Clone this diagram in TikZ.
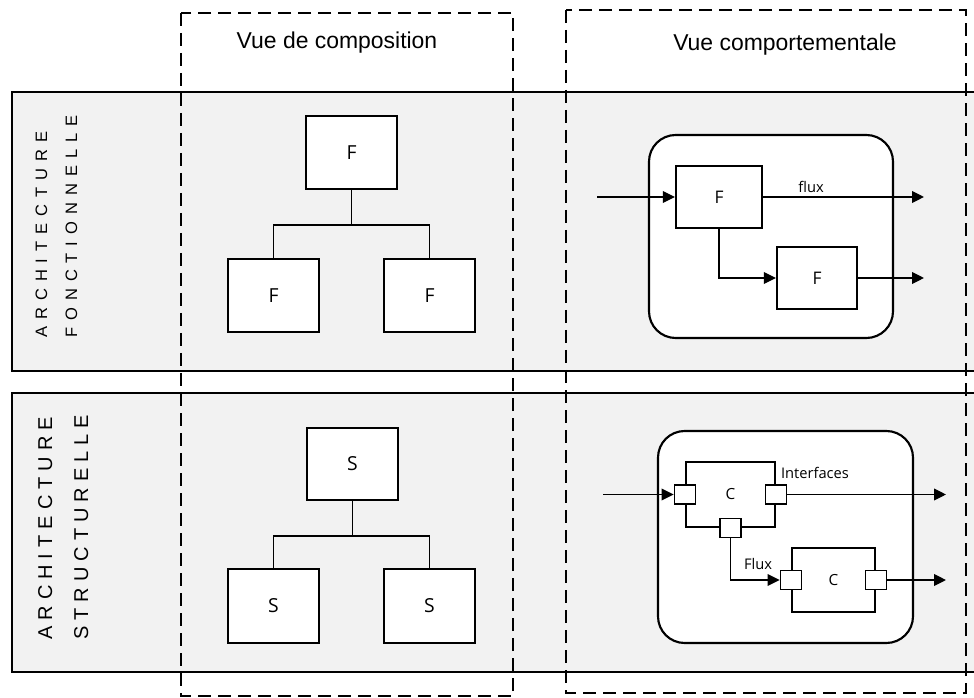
\documentclass[tikz,border=0pt]{standalone}
\usepackage{fontspec}
\setmainfont{Liberation Sans}
\newfontfamily\lblfont{Open Sans}
\usetikzlibrary{arrows.meta}
\definecolor{bandgray}{HTML}{F2F2F2}
\begin{document}
\begin{tikzpicture}[x=0.75pt,y=-0.75pt,
  band/.style={draw=black, line width=1.5pt, fill=bandgray},
  column/.style={draw=black, line width=1.5pt, dash pattern=on 10pt off 5pt},
  sz/.style 2 args={minimum width=#1*0.75pt, minimum height=#2*0.75pt},
  header/.style={inner sep=0pt, font=\fontsize{17.2}{20}\selectfont},
  lblA/.style={inner sep=0pt, rotate=90, anchor=base west, font=\fontsize{12.4}{14}\selectfont\addfontfeature{LetterSpace=42}},
  lblB/.style={inner sep=0pt, rotate=90, anchor=base west, font=\fontsize{15}{17}\selectfont\addfontfeature{LetterSpace=30}},
  box/.style={draw=black, line width=1.6pt, fill=white, inner sep=0pt, font=\lblfont\fontsize{14.5}{16}\selectfont},
  boxF/.style={box, font=\lblfont\fontsize{13}{15}\selectfont},
  boxC/.style={box, font=\lblfont\fontsize{11.5}{13}\selectfont},
  port/.style={draw=black, line width=1.3pt, fill=white, inner sep=0pt, sz={21}{19}},
  cont/.style={draw=black, line width=1.6pt, fill=white, rounded corners=20pt, inner sep=0pt},
  conn/.style={draw=black, line width=0.9pt},
  arr/.style={conn, -{Triangle[length=9pt,width=8.8pt]}},
  small/.style={inner sep=0pt, font=\lblfont\fontsize{11}{13}\selectfont}
]
\useasboundingbox (0,0) rectangle (974,698);
\clip (0,0) rectangle (974,698);
% bands
\draw[band] (12,92) rectangle (1000,371);
\draw[band] (12,393) rectangle (1000,672);
% columns
\draw[column] (181,13) rectangle (513,696);
\draw[column] (566,10) rectangle (966,693);
% headers
\node[header] (h1) at (337,43) {Vue de composition};
\node[header] (h2) at (785,45) {Vue comportementale};
% band labels
\node[lblA] (a1) at (47,338) {ARCHITECTURE};
\node[lblA] (a2) at (77,338) {FONCTIONNELLE};
\node[lblB] (b1) at (52,640) {ARCHITECTURE};
\node[lblB] (b2) at (88,640) {STRUCTURELLE};
% composition F
\node[box, sz={91}{73}] (cf0) at (351.5,152.5) {F};
\node[box, sz={91}{73}] (cf1) at (273.5,295.5) {F};
\node[box, sz={91}{73}] (cf2) at (429.5,295.5) {F};
\coordinate (jf) at (351.5,225);
\draw[conn] (cf0.south) -- (jf);
\draw[conn] (cf1.north) |- (jf) -| (cf2.north);
% composition S
\node[box, sz={91}{72}] (cs0) at (352.5,464) {S};
\node[box, sz={91}{74}] (cs1) at (273.5,606) {S};
\node[box, sz={91}{74}] (cs2) at (429.5,606) {S};
\coordinate (js) at (352.5,536);
\draw[conn] (cs0.south) -- (js);
\draw[conn] (cs1.north) |- (js) -| (cs2.north);
% behaviour F
\node[cont, sz={244}{203}] (kf) at (771,236.5) {};
\node[boxF, sz={86}{62}] (bf1) at (719,197) {F};
\node[boxF, sz={80}{62}] (bf2) at (817,278) {F};
\coordinate (inF) at (597,197);
\coordinate (outF1) at (924,197);
\coordinate (outF2) at (924,278);
\draw[arr] (inF) -- (bf1.west);
\draw[arr] (bf1.east) -- (outF1);
\node[small, anchor=base] (fluxf) at (811,193) {flux};
\draw[arr] (bf1.south) |- (bf2.west);
\draw[arr] (bf2.east) -- (outF2);
% behaviour S
\node[cont, sz={255}{212}] (ks) at (785.5,537) {};
\node[boxC, sz={89}{65}] (bc1) at (730.5,494.5) {C};
\node[port] (p1l) at (bc1.west) {};
\node[port] (p1r) at (bc1.east) {};
\node[port] (p1b) at (bc1.south) {};
\node[boxC, sz={83}{64}] (bc2) at (833.5,580) {C};
\node[port] (p2l) at (bc2.west) {};
\node[port] (p2r) at (bc2.east) {};
\coordinate (inS) at (603,494.5);
\coordinate (outS1) at (946,494.5);
\coordinate (outS2) at (946,580);
\draw[arr] (inS) -- (p1l.west);
\draw[arr] (p1r.east) -- (outS1);
\draw[arr] (p1b.south) |- (p2l.west);
\draw[arr] (p2r.east) -- (outS2);
\node[small] (ifl) at (815,473) {Interfaces};
\node[small] (fll) at (758,564) {Flux};
\end{tikzpicture}
\end{document}
